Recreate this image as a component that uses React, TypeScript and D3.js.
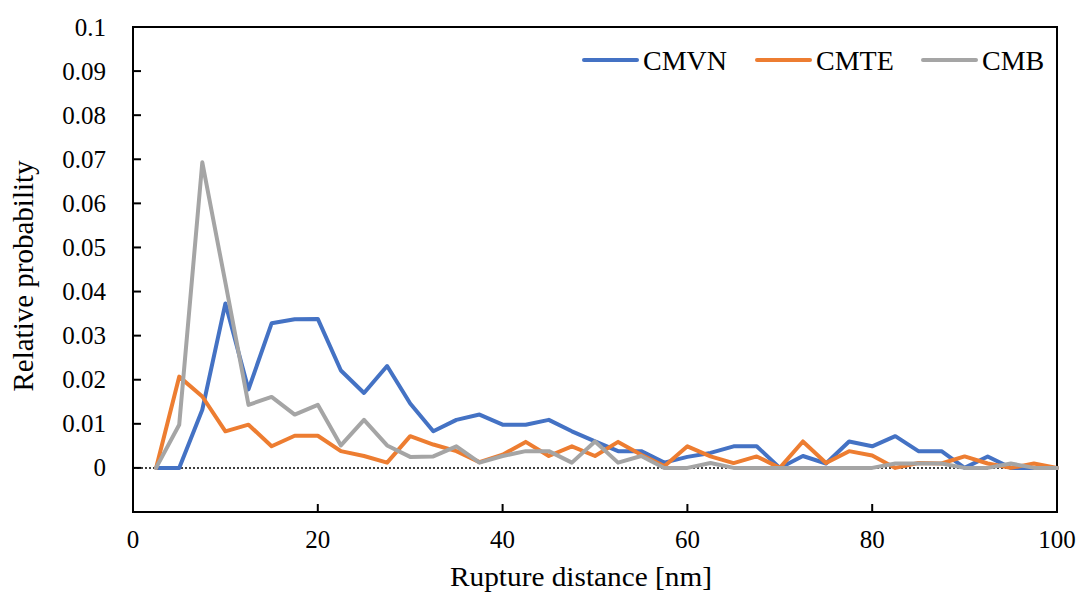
import React from "react";
import * as d3 from "d3";

const distances = [2.5,5,7.5,10,12.5,15,17.5,20,22.5,25,27.5,30,32.5,35,37.5,40,42.5,45,47.5,50,52.5,55,57.5,60,62.5,65,67.5,70,72.5,75,77.5,80,82.5,85,87.5,90,92.5,95,97.5,100];

const cmvn = [0,0,0.0132,0.0373,0.0178,0.0328,0.0337,0.0338,0.0221,0.017,0.0231,0.0146,0.0083,0.0109,0.0121,0.0098,0.0098,0.0109,0.0083,0.006,0.0038,0.0038,0.0012,0.0025,0.0034,0.0049,0.0049,0,0.0027,0.001,0.006,0.0049,0.0072,0.0038,0.0038,0,0.0026,0,0,0];
const cmte = [0,0.0207,0.0162,0.0083,0.0098,0.0049,0.0073,0.0073,0.0038,0.0027,0.0012,0.0072,0.0053,0.0038,0.0013,0.003,0.0059,0.0027,0.0049,0.0027,0.0059,0.003,0.0004,0.0049,0.0026,0.0011,0.0026,0,0.006,0.0011,0.0038,0.0028,0,0.0011,0.001,0.0026,0.001,0,0.001,0];
const cmb = [0,0.0098,0.0693,0.042,0.0143,0.0161,0.0121,0.0143,0.0051,0.0109,0.0051,0.0025,0.0026,0.0049,0.0012,0.0027,0.0038,0.0038,0.0012,0.006,0.0012,0.0027,0,0,0.0011,0,0,0,0,0,0,0,0.001,0.001,0.001,0,0,0.001,0,0];

const seriesNames = ["CMVN", "CMTE", "CMB"];
const seriesColors = ["#4472C4", "#ED7D31", "#A5A5A5"];
const seriesData = [cmvn, cmte, cmb];

const xTicks = [0, 20, 40, 60, 80, 100];
const yTicks = [0, 0.01, 0.02, 0.03, 0.04, 0.05, 0.06, 0.07, 0.08, 0.09, 0.1];

export default function App() {
  const W = 1083, H = 598;
  const x = d3.scaleLinear().domain([0, 100]).range([133, 1057]);
  const y = d3.scaleLinear().domain([-0.01, 0.1]).range([512, 27]);
  const line = d3.line<number>().x((_, i) => x(distances[i])).y((d) => y(d));
  const font = "'Liberation Serif', 'Times New Roman', 'DejaVu Serif', serif";
  const legendX = [584, 757, 923];

  return (
    <svg width={W} height={H} style={{ position: "absolute", left: 0, top: 0, background: "#fff", fontFamily: font }}>
      <rect x={x(0)} y={y(0.1)} width={x(100) - x(0)} height={y(-0.01) - y(0.1)} fill="none" stroke="#000" strokeWidth={2} />
      {yTicks.map((t) => (
        <g key={"y" + t}>
          <line x1={x(0)} x2={x(0) + 8} y1={y(t)} y2={y(t)} stroke="#000" strokeWidth={2} />
          <text x={106} y={y(t) + 8.5} textAnchor="end" fontSize={25} fill="#000">{String(t)}</text>
        </g>
      ))}
      {xTicks.map((t) => (
        <g key={"x" + t}>
          {t > 0 && t < 100 && <line x1={x(t)} x2={x(t)} y1={y(-0.01)} y2={y(-0.01) - 8} stroke="#000" strokeWidth={2} />}
          <text x={x(t)} y={548} textAnchor="middle" fontSize={25} fill="#000">{t}</text>
        </g>
      ))}
      <line x1={x(0)} x2={x(100)} y1={y(0)} y2={y(0)} stroke="#000" strokeWidth={1.5} strokeDasharray="2 2" />
      {seriesData.map((d, i) => (
        <path key={seriesNames[i]} d={line(d) || ""} fill="none" stroke={seriesColors[i]} strokeWidth={4} strokeLinejoin="round" strokeLinecap="round" />
      ))}
      {seriesNames.map((n, i) => (
        <g key={"lg" + n}>
          <line x1={legendX[i]} x2={legendX[i] + 53} y1={60} y2={60} stroke={seriesColors[i]} strokeWidth={4} strokeLinecap="round" />
          <text x={legendX[i] + 59} y={70} fontSize={28} fill="#000">{n}</text>
        </g>
      ))}
      <text x={581} y={586} textAnchor="middle" fontSize={27} textLength={262} lengthAdjust="spacingAndGlyphs" fill="#000">Rupture distance [nm]</text>
      <text transform={`translate(33, 276) rotate(-90)`} textAnchor="middle" fontSize={29} fill="#000">Relative probability</text>
    </svg>
  );
}
